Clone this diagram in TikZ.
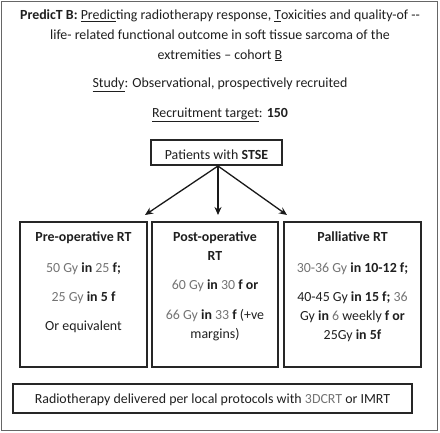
\documentclass[tikz,border=0pt]{standalone}
\usepackage{fontspec}
\setmainfont{Carlito}
\usetikzlibrary{arrows.meta}
\definecolor{lg}{gray}{0.45}
\definecolor{dk}{gray}{0.12}
\newcommand{\gr}[1]{\textcolor{lg}{#1}}
\begin{document}
\begin{tikzpicture}[x=1pt,y=-1pt,
  txt/.style={anchor=base,inner sep=0pt,font=\fontsize{13.9}{16}\selectfont,text=dk},
  boxx/.style={draw=black!85,line width=1.3pt,inner sep=0pt},
  arr/.style={-{Stealth[length=8pt,width=7pt]},line width=1.3pt,draw=black!90}]
\useasboundingbox (0,0) rectangle (440,432);
\draw[black!60,line width=1.3pt] (1.5,1.5) rectangle (437.5,430.5);
% title
\node[txt] (t1) at (220,19.3) {\textbf{PredicT B:} \underline{Predic}ting radiotherapy response, \underline{T}oxicities and quality-of -{}-};
\node[txt] (t2) at (220,39.3) {life- related functional outcome in soft tissue sarcoma of the};
\node[txt] (t3) at (220,59) {extremities -- cohort \underline{B}};
\node[txt] (t4) at (220,87.3) {\underline{Study}: Observational, prospectively recruited};
\node[txt] (t5) at (220,117.3) {\underline{Recruitment target}: \textbf{150}};
% patients
\node[boxx,minimum width=131pt,minimum height=25pt] (pat) at (216.5,152.5) {};
\node[txt] (patt) at (216.5,159) {Patients with \textbf{STSE}};
% boxes
\node[boxx,minimum width=127pt,minimum height=145pt] (pre) at (83.5,294.5) {};
\node[boxx,minimum width=126pt,minimum height=145pt] (post) at (215,294.5) {};
\node[boxx,minimum width=137pt,minimum height=145pt] (pal) at (352.5,294.5) {};
\coordinate (src) at (218,166);
\coordinate (e1) at (145,215);
\coordinate (e2) at (218,215);
\coordinate (e3) at (287,215);
\draw[arr] (src) -- (e1);
\draw[arr] (src) -- (e2);
\draw[arr] (src) -- (e3);
% pre text
\node[txt] (a1) at (83.5,241.7) {\textbf{Pre-operative RT}};
\node[txt] (a2) at (83.5,272.5) {\gr{50 Gy} \textbf{in} \gr{25} \textbf{f;}};
\node[txt] (a3) at (83.5,301.5) {\gr{25 Gy} \textbf{in 5 f}};
\node[txt] (a4) at (83.5,330.5) {Or equivalent};
% post text
\node[txt] (b1) at (215,241.7) {\textbf{Post-operative}};
\node[txt] (b2) at (215,260.5) {\textbf{RT}};
\node[txt] (b3) at (215,289.5) {\gr{60 Gy} \textbf{in} \gr{30} \textbf{f or}};
\node[txt] (b4) at (215,319.5) {\gr{66 Gy} \textbf{in} \gr{33} \textbf{f} (+ve};
\node[txt] (b5) at (215,338.5) {margins)};
% palliative text
\node[txt] (c1) at (352.5,241.7) {\textbf{Palliative RT}};
\node[txt] (c2) at (352.5,272.5) {\gr{30-36 Gy} \textbf{in 10-12 f;}};
\node[txt] (c3) at (352.5,301.5) {40-45 Gy \textbf{in 15 f;} \gr{36}};
\node[txt] (c4) at (352.5,320.5) {Gy \textbf{in} \gr{6} weekly \textbf{f or}};
\node[txt] (c5) at (352.5,339.5) {25Gy \textbf{in 5f}};
% bottom
\node[boxx,minimum width=399pt,minimum height=29pt] (bot) at (212.5,398.5) {};
\node[txt] (bott) at (212.5,403) {Radiotherapy delivered per local protocols with \gr{3DCRT} or IMRT};
\end{tikzpicture}
\end{document}
